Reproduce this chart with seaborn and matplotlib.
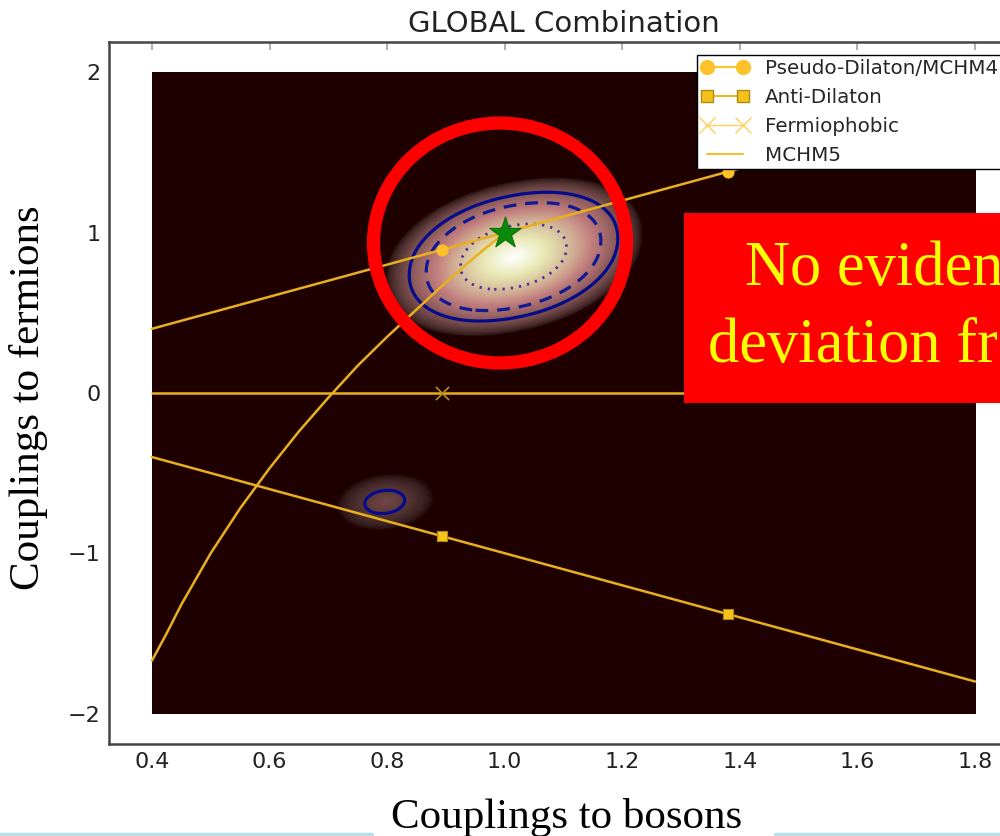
import numpy as np
import matplotlib
matplotlib.use("Agg")
import matplotlib.pyplot as plt
import seaborn as sns
from matplotlib.patches import Ellipse, Rectangle
from matplotlib.lines import Line2D

# --- benchmark models (couplings to bosons, couplings to fermions) ---
pd_x = [0.4, 1.8]
pd_y = [0.4, 1.8]
pd_mark_x = [0.894, 1.38]
pd_mark_y = [0.894, 1.38]

ad_x = [0.4, 1.8]
ad_y = [-0.4, -1.8]
ad_mark_x = [0.894, 1.38]
ad_mark_y = [-0.894, -1.38]

fp_x = [0.4, 1.8]
fp_y = [0.0, 0.0]
fp_mark_x = [0.894, 1.38]
fp_mark_y = [0.0, 0.0]

mchm5_x = [0.4, 0.425, 0.45, 0.475, 0.5, 0.525, 0.55, 0.6, 0.65, 0.7, 0.75,
           0.8, 0.85, 0.9, 0.95, 1.0]
mchm5_y = [-1.67, -1.5, -1.32, -1.16, -1.0, -0.86, -0.72, -0.47, -0.24, -0.03,
           0.17, 0.35, 0.52, 0.69, 0.85, 1.0]

sm_point = [1.0, 1.0]

# likelihood shapes (centre, 1-sigma widths, tilt, roundness)
main_centre = [1.015, 0.85]
main_sigma = [0.09, 0.194]
main_tilt = 0.3
main_power = 2.1
main_reach = 2.45         # glow fades out at this many widths
contour_radii = [1.0, 1.65, 1.97]   # dotted, dashed, solid

side_centre = [0.796, -0.68]
side_sigma = [0.034, 0.072]
side_tilt = 0.15
side_power = 2.0
side_glow = 0.12
side_reach = 2.5

x_ticks = [0.4, 0.6, 0.8, 1.0, 1.2, 1.4, 1.6, 1.8]
y_ticks = [-2, -1, 0, 1, 2]


def radius(X, Y, c, s, tilt, p):
    u = (X - c[0]) / s[0]
    v = (Y - c[1]) / s[1] - tilt * u
    return (np.abs(u)**p + np.abs(v)**p) ** (1 / p)


gx = np.linspace(0.4, 1.8, 600)
gy = np.linspace(-2, 2, 800)
X, Y = np.meshgrid(gx, gy)
k_main = radius(X, Y, main_centre, main_sigma, main_tilt, main_power)
k_side = radius(X, Y, side_centre, side_sigma, side_tilt, side_power)
glow = np.clip(1 - k_main / main_reach, 0, 1) ** 1.1 + \
    side_glow * np.clip(1 - k_side / side_reach, 0, 1)

sns.set_style("white", {"xtick.direction": "in", "ytick.direction": "in"})
plt.rcParams['font.family'] = ['DejaVu Sans']

fig = plt.figure(figsize=(10, 8.36), dpi=100)
ax = fig.add_axes([0.109, 0.110, 0.909, 0.840])

ax.imshow(glow, extent=[0.4, 1.8, -2, 2], origin='lower', aspect='auto',
          cmap='pink', vmin=0, vmax=1, interpolation='bilinear', zorder=1)

ax.contour(X, Y, k_main, levels=[contour_radii[2]], colors='#060b8c',
           linewidths=2.3, linestyles='solid', zorder=2)
ax.contour(X, Y, k_main, levels=[contour_radii[1]], colors='#0f1a94',
           linewidths=2.3, linestyles=[(0, (4, 2.8))], zorder=2)
ax.contour(X, Y, k_main, levels=[contour_radii[0]], colors='#45309c',
           linewidths=2.0, linestyles=[(0, (0.8, 2.2))], zorder=2)
ax.contour(X, Y, k_side, levels=[1.0], colors='#060b8c',
           linewidths=2.3, linestyles='solid', zorder=2)

line_col = '#e9b01e'
sns.lineplot(x=pd_x, y=pd_y, color=line_col, lw=1.8, ax=ax, zorder=3)
sns.lineplot(x=ad_x, y=ad_y, color=line_col, lw=1.8, ax=ax, zorder=3)
sns.lineplot(x=fp_x, y=fp_y, color=line_col, lw=1.8, ax=ax, zorder=3)
sns.lineplot(x=mchm5_x, y=mchm5_y, color=line_col, lw=1.8, ax=ax, zorder=3)

sns.scatterplot(x=pd_mark_x, y=pd_mark_y, marker='o', s=65, color='#ffc22a',
                edgecolor='#ffc22a', ax=ax, zorder=4)
sns.scatterplot(x=ad_mark_x, y=ad_mark_y, marker='s', s=55, color='#f5c21c',
                edgecolor='#b08a10', linewidth=0.8, ax=ax, zorder=4)
sns.scatterplot(x=fp_mark_x, y=fp_mark_y, marker='x', s=90, color='#b88f1e',
                linewidth=1.2, ax=ax, zorder=4)
sns.scatterplot(x=[sm_point[0]], y=[sm_point[1]], marker='*', s=560,
                color='#0a8a0a', edgecolor='#067006', linewidth=0.8, ax=ax, zorder=5)

ax.set_xlim(0.327, 1.873)
ax.set_ylim(-2.19, 2.19)
ax.set_xticks(x_ticks)
ax.set_xticklabels([f"{v:.1f}" for v in x_ticks])
ax.set_yticks(y_ticks)
ax.tick_params(which='both', top=True, right=True, direction='in', length=6,
               width=1.5, color='#b0b0b0', labelsize=16, labelcolor='#222222', pad=6)
for sp in ax.spines.values():
    sp.set_color('#444444')
    sp.set_linewidth(1.8)

ax.set_title("GLOBAL Combination", fontsize=21, color='#222222', pad=7)

handles = [
    Line2D([], [], color='#ffc22a', lw=1.5, marker='o', ms=10),
    Line2D([], [], color='#f0b820', lw=1.5, marker='s', ms=9, mfc='#f5c21c', mec='#b08a10'),
    Line2D([], [], color='#ffcf5a', lw=1.0, marker='x', ms=12, mew=1.0),
    Line2D([], [], color='#f5c030', lw=1.5),
]
labels = ["Pseudo-Dilaton/MCHM4", "Anti-Dilaton", "Fermiophobic", "MCHM5"]
leg = ax.legend(handles, labels, loc='upper left', bbox_to_anchor=(0.697, 1 - 55 / 836),
                bbox_transform=fig.transFigure, fontsize=14.3, numpoints=2,
                handlelength=2.4, labelspacing=0.5, borderaxespad=0,
                frameon=True, fancybox=False, framealpha=1, borderpad=0.2,
                handletextpad=0.8)
leg.get_frame().set_edgecolor('black')
leg.get_frame().set_linewidth(1.0)
leg.set_zorder(10)

# slide decorations
fig.add_artist(Line2D([0, 0.372], [0.0025, 0.0025], color='#b7dfe5', lw=2.5))
fig.add_artist(Line2D([0.775, 1.0], [0.0025, 0.0025], color='#b7dfe5', lw=2.5))

fig.text(0.567, 1 - 828 / 836, "Couplings to bosons", ha='center', va='baseline',
         fontsize=31, family='Liberation Serif', color='black')
fig.text(0.029, 1 - 398 / 836, "Couplings to fermions", ha='center', va='center',
         rotation=90, fontsize=31, family='Liberation Serif', color='black')

fig.add_artist(Ellipse((0.5, 1 - 243 / 836), 0.253, 0.287, transform=fig.transFigure,
                       fill=False, edgecolor='#ff0000', lw=9.5, zorder=20))
fig.add_artist(Rectangle((0.684, 1 - 403 / 836), 0.4, 190 / 836, transform=fig.transFigure,
                         facecolor='#ff0000', edgecolor='none', zorder=20))
fig.text(0.745, 1 - 285 / 836, "No evident", ha='left', va='baseline', fontsize=45,
         family='Liberation Serif', color='#ffff00', zorder=21)
fig.text(0.708, 1 - 362 / 836, "deviation from SM", ha='left', va='baseline', fontsize=45,
         family='Liberation Serif', color='#ffff00', zorder=21)

fig.savefig("out.png", dpi=100, facecolor='white')
